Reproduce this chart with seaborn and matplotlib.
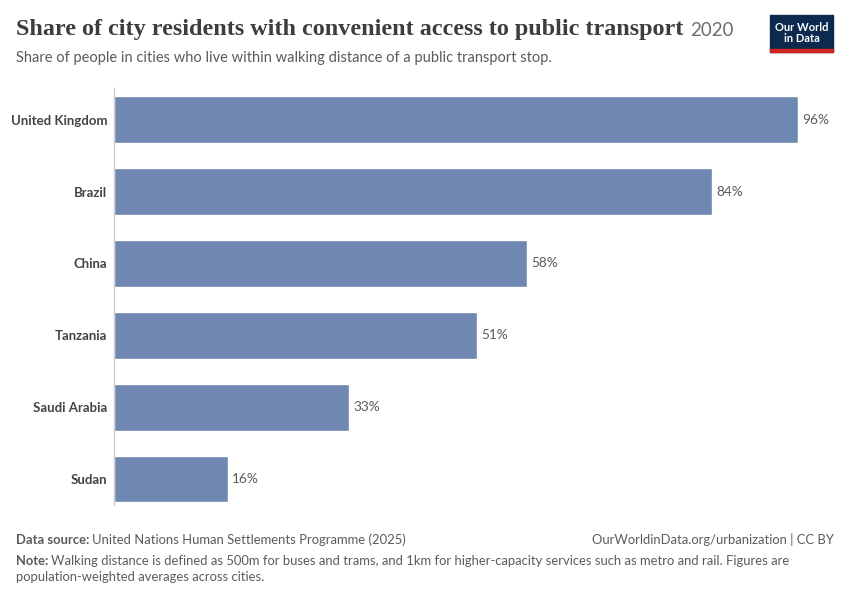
import matplotlib
matplotlib.use("Agg")
import matplotlib.pyplot as plt
import pandas as pd
import seaborn as sns
from matplotlib.patches import Rectangle

countries = ["United Kingdom", "Brazil", "China", "Tanzania", "Saudi Arabia", "Sudan"]
shares = [96, 84, 58, 51, 33, 16]
value_labels = ["96%", "84%", "58%", "51%", "33%", "16%"]

title = "Share of city residents with convenient access to public transport"
year = "2020"
subtitle = "Share of people in cities who live within walking distance of a public transport stop."
source = "United Nations Human Settlements Programme (2025)"
note_line1 = ("Walking distance is defined as 500m for buses and trams, and 1km for higher-capacity "
              "services such as metro and rail. Figures are")
note_line2 = "population-weighted averages across cities."

BAR = "#6F88B1"
GREY = "#5B5B5B"
DARK = "#444444"

sns.set_theme(style="white")
plt.rcParams["font.family"] = ["Lato", "DejaVu Sans"]

df = pd.DataFrame({"country": countries, "share": shares})

fig = plt.figure(figsize=(8.5, 6), dpi=100)
ax = fig.add_axes([114 / 850, 1 - 505 / 600, (826 - 114) / 850, (505 - 88) / 600])

sns.barplot(data=df, x="share", y="country", orient="h", color=BAR,
            saturation=1, width=0.65, ax=ax)

for i, (v, lab) in enumerate(zip(shares, value_labels)):
    ax.text(v + 0.6, i, lab, va="center", ha="left", fontsize=9.8, color=GREY)

ax.set_xlim(0, 100)
ax.set_ylim(5.36, -0.44)
ax.set_xlabel("")
ax.set_ylabel("")
ax.set_xticks([])
for s in ["top", "right", "bottom"]:
    ax.spines[s].set_visible(False)
ax.spines["left"].set_color("#cccccc")
ax.spines["left"].set_linewidth(1)
ax.tick_params(axis="y", length=0, pad=5)
for t in ax.get_yticklabels():
    t.set_fontsize(9.5)
    t.set_fontweight("bold")
    t.set_color(DARK)

# title and subtitle
t = fig.text(16 / 850, 1 - 30 / 600, title, fontsize=17.4, fontweight="bold",
             family=["Liberation Serif", "DejaVu Serif"], color="#3d3d3d", va="center")
fig.canvas.draw()
bb = t.get_window_extent()
fig.text(bb.x1 / 850 + 7 / 850, 1 - 31 / 600, year, fontsize=13.5, color="#6e6e6e", va="center")
fig.text(16 / 850, 1 - 58 / 600, subtitle, fontsize=10.5, color=GREY, va="center")

# logo
fig.add_artist(Rectangle((770 / 850, 1 - 52 / 600), 63 / 850, 37 / 600,
                         transform=fig.transFigure, color="#0b2a4d", zorder=5))
fig.add_artist(Rectangle((770 / 850, 1 - 52 / 600), 63 / 850, 3 / 600,
                         transform=fig.transFigure, color="#ce261e", zorder=6))
fig.text(801.5 / 850, 1 - 33 / 600, "Our World\nin Data", ha="center", va="center",
         fontsize=8, color="white", fontweight="bold", linespacing=1.0, zorder=7)

# footer
fs = 9.4
fig.text(16 / 850, 1 - 540 / 600, "Data source:", fontsize=fs, fontweight="bold", color=GREY, va="center")
fig.text(92 / 850, 1 - 540 / 600, source, fontsize=fs, color=GREY, va="center")
fig.text(834 / 850, 1 - 540 / 600, "OurWorldinData.org/urbanization | CC BY", fontsize=fs,
         color=GREY, va="center", ha="right")
fig.text(16 / 850, 1 - 561 / 600, "Note:", fontsize=fs, fontweight="bold", color=GREY, va="center")
fig.text(51 / 850, 1 - 561 / 600, note_line1, fontsize=fs, color=GREY, va="center")
fig.text(16 / 850, 1 - 577 / 600, note_line2, fontsize=fs, color=GREY, va="center")

fig.savefig("out.png", dpi=100, facecolor="white")
